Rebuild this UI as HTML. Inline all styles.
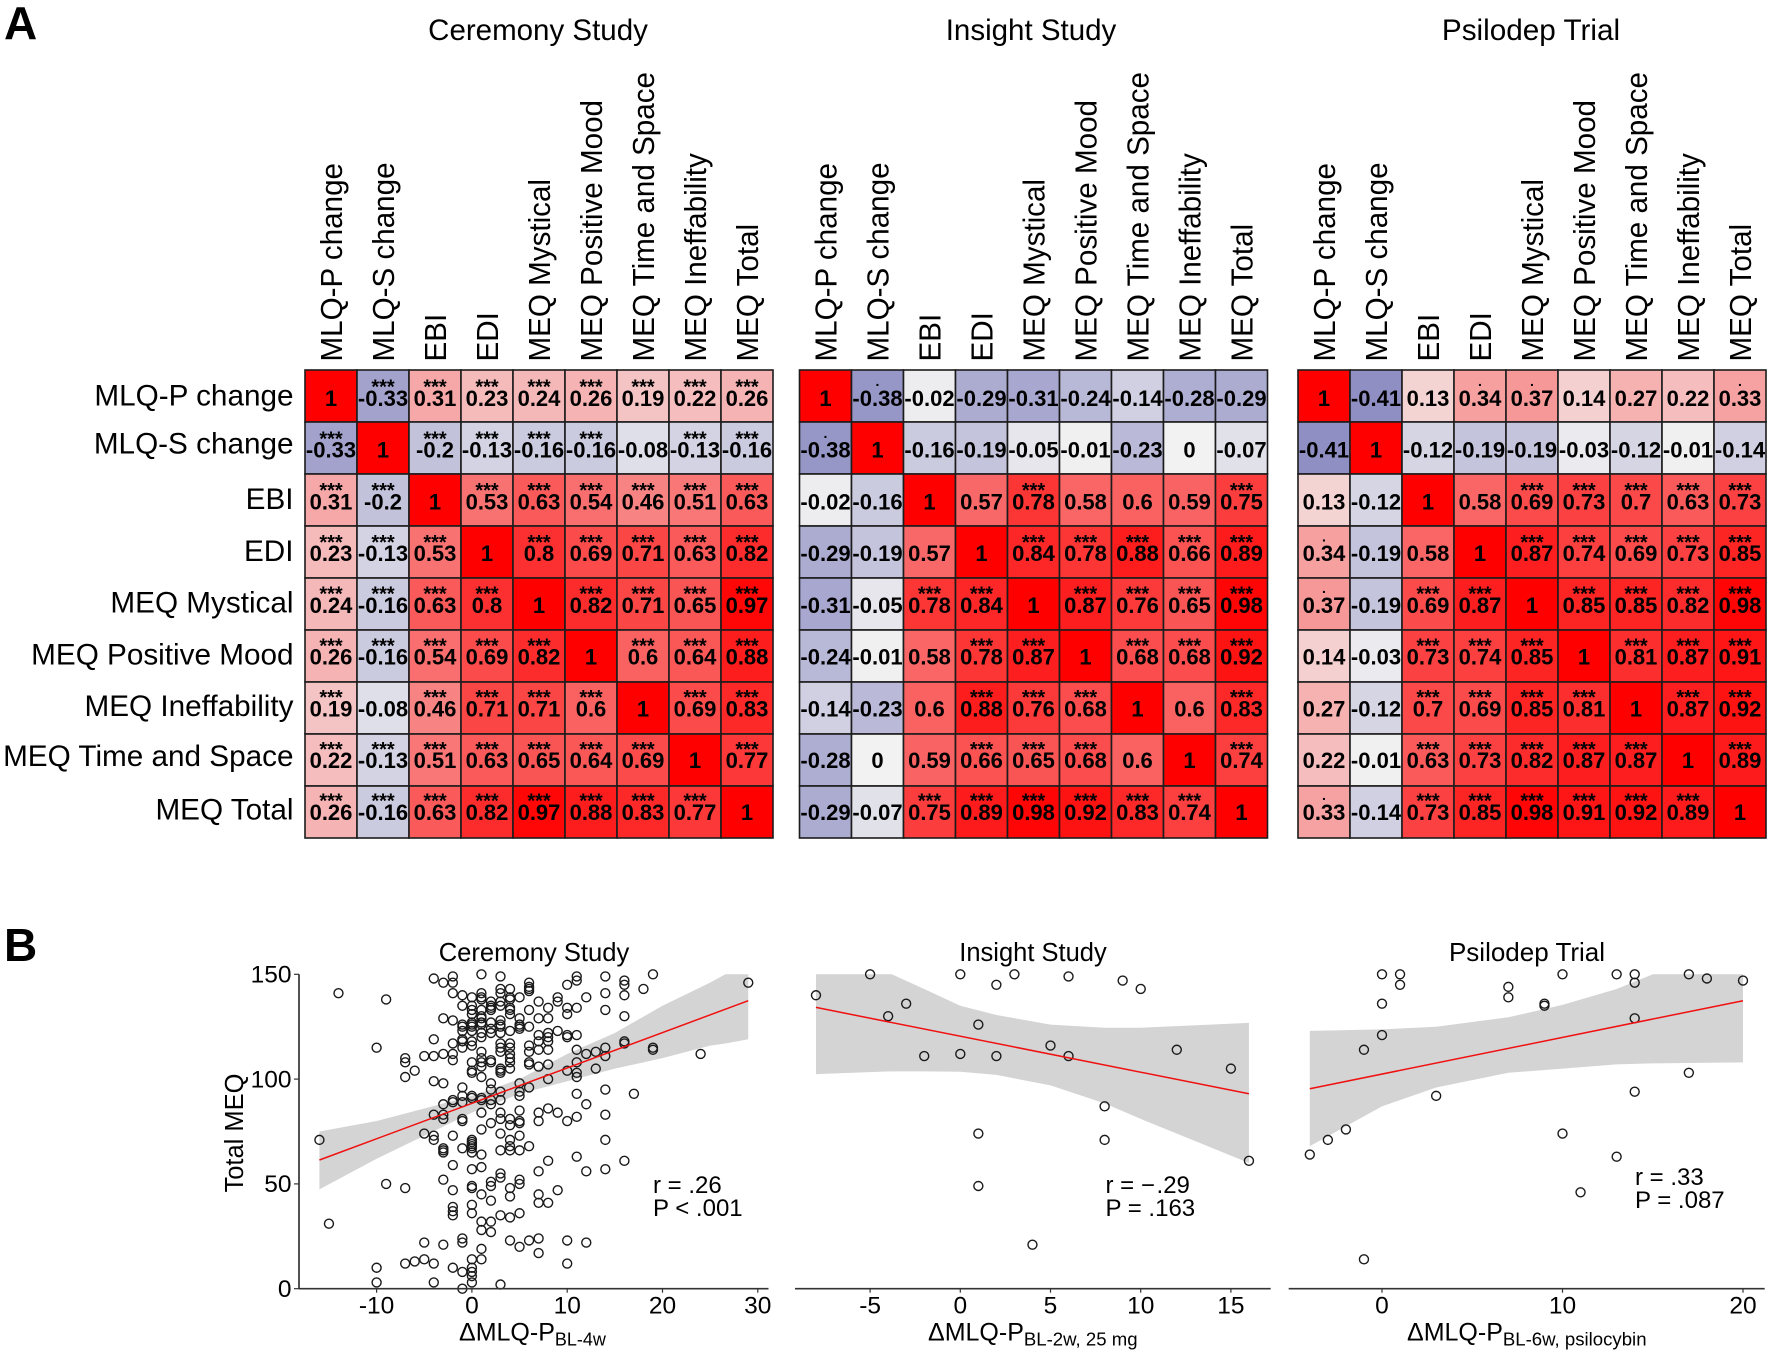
<!DOCTYPE html>
<html lang="en">
<head>
<meta charset="utf-8">
<title>Correlation matrices and scatter plots of MLQ-P change and MEQ</title>
<style>
html,body{margin:0;padding:0;background:#fff;width:1772px;height:1354px;overflow:hidden}
svg{display:block}
text{font-family:"Liberation Sans",Arial,sans-serif;fill:#000}
</style>
</head>
<body>
<svg id="figure" xmlns="http://www.w3.org/2000/svg" width="1772" height="1354" viewBox="0 0 1772 1354">
  <rect x="0" y="0" width="1772" height="1354" fill="#fff"/>
  <text x="4" y="39" font-size="46" font-weight="700">A</text>
  <text x="4" y="961" font-size="46" font-weight="700">B</text>
  <text x="538" y="40" font-size="29.5" text-anchor="middle">Ceremony Study</text>
  <text x="1031" y="40" font-size="29.5" text-anchor="middle">Insight Study</text>
  <text x="1531" y="40" font-size="29.7" text-anchor="middle">Psilodep Trial</text>
  <text x="534" y="961" font-size="25.6" text-anchor="middle">Ceremony Study</text>
  <text x="1033" y="961" font-size="25.5" text-anchor="middle">Insight Study</text>
  <text x="1527" y="961" font-size="26" text-anchor="middle">Psilodep Trial</text>
  <text transform="translate(243,1133) rotate(-90)" font-size="25.5" text-anchor="middle">Total MEQ</text>
  <g id="heatmaps"></g>
  <g id="scatters"></g>
  <text x="459" y="1340.5" font-size="25">ΔMLQ-P<tspan font-size="18" dy="5">BL-4w</tspan></text>
  <text x="928" y="1340.5" font-size="25">ΔMLQ-P<tspan font-size="18.6" dy="5">BL-2w, 25 mg</tspan></text>
  <text x="1407" y="1340.5" font-size="25">ΔMLQ-P<tspan font-size="18.6" dy="5">BL-6w, psilocybin</tspan></text>
  <text x="653" y="1193" font-size="24">r = .26</text>
  <text x="653" y="1216" font-size="24">P &lt; .001</text>
  <text x="1105.5" y="1193" font-size="24">r = − <tspan dx="-5">.29</tspan></text>
  <text x="1105.5" y="1216" font-size="24">P = .163</text>
  <text x="1635" y="1185" font-size="24">r = .33</text>
  <text x="1635" y="1208" font-size="24">P = .087</text>
</svg>
<script>
// ---------- Heatmap data ----------
const columnLabels = ["MLQ-P change","MLQ-S change","EBI","EDI","MEQ Mystical","MEQ Positive Mood","MEQ Time and Space","MEQ Ineffability","MEQ Total"];
const rowLabels = ["MLQ-P change","MLQ-S change","EBI","EDI","MEQ Mystical","MEQ Positive Mood","MEQ Ineffability","MEQ Time and Space","MEQ Total"];

const ceremonyCorr = [
 [1,-0.33,0.31,0.23,0.24,0.26,0.19,0.22,0.26],
 [-0.33,1,-0.2,-0.13,-0.16,-0.16,-0.08,-0.13,-0.16],
 [0.31,-0.2,1,0.53,0.63,0.54,0.46,0.51,0.63],
 [0.23,-0.13,0.53,1,0.8,0.69,0.71,0.63,0.82],
 [0.24,-0.16,0.63,0.8,1,0.82,0.71,0.65,0.97],
 [0.26,-0.16,0.54,0.69,0.82,1,0.6,0.64,0.88],
 [0.19,-0.08,0.46,0.71,0.71,0.6,1,0.69,0.83],
 [0.22,-0.13,0.51,0.63,0.65,0.64,0.69,1,0.77],
 [0.26,-0.16,0.63,0.82,0.97,0.88,0.83,0.77,1]
];
const insightCorr = [
 [1,-0.38,-0.02,-0.29,-0.31,-0.24,-0.14,-0.28,-0.29],
 [-0.38,1,-0.16,-0.19,-0.05,-0.01,-0.23,0,-0.07],
 [-0.02,-0.16,1,0.57,0.78,0.58,0.6,0.59,0.75],
 [-0.29,-0.19,0.57,1,0.84,0.78,0.88,0.66,0.89],
 [-0.31,-0.05,0.78,0.84,1,0.87,0.76,0.65,0.98],
 [-0.24,-0.01,0.58,0.78,0.87,1,0.68,0.68,0.92],
 [-0.14,-0.23,0.6,0.88,0.76,0.68,1,0.6,0.83],
 [-0.28,0,0.59,0.66,0.65,0.68,0.6,1,0.74],
 [-0.29,-0.07,0.75,0.89,0.98,0.92,0.83,0.74,1]
];
const psilodepCorr = [
 [1,-0.41,0.13,0.34,0.37,0.14,0.27,0.22,0.33],
 [-0.41,1,-0.12,-0.19,-0.19,-0.03,-0.12,-0.01,-0.14],
 [0.13,-0.12,1,0.58,0.69,0.73,0.7,0.63,0.73],
 [0.34,-0.19,0.58,1,0.87,0.74,0.69,0.73,0.85],
 [0.37,-0.19,0.69,0.87,1,0.85,0.85,0.82,0.98],
 [0.14,-0.03,0.73,0.74,0.85,1,0.81,0.87,0.91],
 [0.27,-0.12,0.7,0.69,0.85,0.81,1,0.87,0.92],
 [0.22,-0.01,0.63,0.73,0.82,0.87,0.87,1,0.89],
 [0.33,-0.14,0.73,0.85,0.98,0.91,0.92,0.89,1]
];
// significance: 3 = ***, . = dot, - = none
const ceremonySig = ["-33333333","3-3333-33","33-333333","333-33333","3333-3333","33333-333","3-3333-33","3333333-3","33333333-"];
const insightSig = ["-.-------",".--------","----3---3","----33333","--33-3333","---33-333","---333--3","---333--3","--333333-"];
const psilodepSig = ["---..---.","---------","----33333",".---33333",".-33-3333","--333-333","--3333-33","--33333-3",".-333333-"];

// ---------- Scatter data ----------
const ceremonyColumnsX = [-16,-15,-14,-10,-9,-7,-6,-5,-4,-3,-2,-1,0,1,2,3,4,5,6,7,8,9,10,11,12,13,14,16,17,18,19,24,29];
const ceremonyColumnsMEQ = [
 [71],[31],[141],[115,10,3],[138,50],[110,108,101,48,12],[104,13],[111,74,22,14],
 [148,119,111,99,83,73,71,12,3],
 [146,129,112,98,88,83,81,67,66,65,52,21],
 [149,146,141,128,117,112,109,90,89,73,59,47,39,37,35,10],
 [140,135,126,125,123,119,118,115,96,92,89,81,80,67,24,22,8,0],
 [139,135,133,131,127,126,125,123,118,116,108,104,103,92,91,71,70,69,68,67,65,57,49,48,40,36,14,10,8,6,3],
 [150,141,139,138,133,130,129,127,126,122,120,113,110,108,106,101,91,90,84,76,64,58,45,32,28,19,14],
 [137,135,134,133,127,124,122,109,108,98,95,90,88,79,51,49,42,32,27],
 [149,143,141,137,135,128,126,125,122,117,115,113,105,104,103,94,90,84,81,74,66,55,53,35,2],
 [143,139,138,134,133,131,123,117,115,112,110,108,105,81,78,71,68,66,48,44,34,23],
 [139,129,126,125,124,98,94,92,85,80,79,73,66,52,50,36,20],
 [146,144,143,142,133,125,116,113,108,107,96,68,23],
 [137,129,121,118,114,106,84,80,56,45,41,24,17],
 [134,129,122,120,118,114,107,100,86,61,41],
 [139,137,123,84,47],
 [145,134,131,121,120,104,80,23,12],
 [149,147,134,121,114,108,103,101,93,82,63],
 [139,112,88,56,22],
 [113,105],
 [149,141,133,115,111,95,83,71,57],
 [147,145,140,130,118,117,61],
 [93],[143],[150,115,114],[112],[146]
];
const ceremonyLineX = [-16,29];
const ceremonyLineY = [61.4,137.4];
const ceremonyCiX = [-16,-10,-5,0,5,10,15,20,25,26.6,29];
const ceremonyCiUpper = [75,80,86,92,100,112,122,135,146,150,150];
const ceremonyCiLower = [47.4,62,73,84,93,99,105,110,116,117,119];

const insightX = [-8,-5,-4,-3,-2,0,0,1,1,1,2,2,3,4,5,6,6,8,8,9,10,12,15,16];
const insightMEQ = [140,150,130,136,111,150,112,126,74,49,145,111,150,21,116,149,111,87,71,147,143,114,105,61];
const insightLineX = [-8,16];
const insightLineY = [134.2,93];
const insightCiX = [-8,-3.8,-2,0,2,5,8,10,16];
const insightCiUpper = [150,150,143,135,130.6,126,124.5,124.5,126.8];
const insightCiLower = [102.4,103.7,103.7,103.5,102,97,88.4,81,60];

const psilodepX = [-4,-3,-2,-1,-1,0,0,0,1,1,3,7,7,9,9,10,10,11,13,13,14,14,14,14,17,17,18,20];
const psilodepMEQ = [64,71,76,114,14,150,136,121,150,145,92,144,139,136,135,150,74,46,150,63,150,146,129,94,150,103,148,147];
const psilodepLineX = [-4,20];
const psilodepLineY = [95.4,137.4];
const psilodepCiX = [-4,0,3,7,10,13,15,20];
const psilodepCiUpper = [123,123.7,125,129.5,135.4,143,150,150];
const psilodepCiLower = [68,87,96,103,105,107,107.5,108];

const yTicks = [0,50,100,150];
const ceremonyXTicks = [-10,0,10,20,30];
const insightXTicks = [-5,0,5,10,15];
const psilodepXTicks = [0,10,20];

// ---------- Helpers ----------
const NS = "http://www.w3.org/2000/svg";
function make(tag, attrs, parent, content){
  const el = document.createElementNS(NS, tag);
  for (const k in attrs) el.setAttribute(k, attrs[k]);
  if (content !== undefined) el.textContent = content;
  parent.appendChild(el);
  return el;
}
function cellColor(v){
  if (v >= 0){
    const c = Math.round(242 * (1 - v));
    const r = Math.round(242 + 13 * v);
    return "rgb(" + r + "," + c + "," + c + ")";
  }
  const a = -v;
  const rg = Math.round(242 - 242 * a);
  const b = Math.round(242 - 114 * a);
  return "rgb(" + rg + "," + rg + "," + b + ")";
}

// ---------- Heatmaps ----------
const heatTop = 370, cellSize = 52, rowLabelRight = 293.5, textStep = 51.75;
const rowLabelBaseline = r => 405.7 + textStep * r - (r === 1 ? 4 : 0) - (r === 7 ? 2 : 0);
function drawHeatmap(root, left, corr, sig, withRowLabels){
  const colCenter = c => left + cellSize * (c + 0.5);
  const rowTop = r => heatTop + cellSize * r;
  const group = make("g", {}, root);
  
  
  corr.forEach((row, r) => {
    row.forEach((v, c) => {
      const rect = make("rect", {x: left + cellSize * c, y: rowTop(r), width: cellSize, height: cellSize, fill: cellColor(v), stroke: "#1c1c1c", "stroke-width": 1.6}, group);
      
      
    });
  });
  corr.forEach((row, r) => {
    row.forEach((v, c) => {
      const label = make("text", {x: colCenter(c), y: 405.8 + textStep * r, "font-size": 22, "font-weight": 700, "text-anchor": "middle"}, group, String(v));
      
      
      const mark = sig[r][c];
      if (mark === "3"){
        const stars = make("text", {x: colCenter(c), y: 393.5 + textStep * r, "font-size": 20, "font-weight": 700, "text-anchor": "middle"}, group, "***");
        
        
      } else if (mark === "."){
        const dot = make("text", {x: colCenter(c), y: 386 + textStep * r, "font-size": 14, "font-weight": 700, "text-anchor": "middle"}, group, ".");
        
        
      }
    });
  });
  columnLabels.forEach((name, c) => {
    const t = make("text", {transform: "translate(" + (colCenter(c) + 11) + ",361.5) rotate(-90) scale(0.955,1)", "font-size": 31}, group, name);
    
    
  });
  if (withRowLabels){
    rowLabels.forEach((name, r) => {
      const t = make("text", {x: rowLabelRight, y: rowLabelBaseline(r), "font-size": 29.7, "text-anchor": "end"}, group, name);
      
      
    });
  }
}
const heatRoot = document.getElementById("heatmaps");
drawHeatmap(heatRoot, 305, ceremonyCorr, ceremonySig, true);
drawHeatmap(heatRoot, 799.5, insightCorr, insightSig, false);
drawHeatmap(heatRoot, 1298, psilodepCorr, psilodepSig, false);

// ---------- Scatter plots ----------
const yScale = v => 1288.7 - v * (314.4 / 150);
function drawScatter(root, opt){
  const xScale = v => opt.zero + v * opt.unit;
  const group = make("g", {}, root);
  
  

  const upper = opt.ciX.map((x, i) => xScale(x) + "," + yScale(opt.ciUpper[i]));
  const lower = opt.ciX.map((x, i) => xScale(x) + "," + yScale(opt.ciLower[i])).reverse();
  const band = make("polygon", {points: upper.concat(lower).join(" "), fill: "#d4d4d4", stroke: "none"}, group);
  
  

  opt.px.forEach((x, i) => {
    const pt = make("circle", {cx: xScale(x), cy: yScale(opt.py[i]), r: 4.5, fill: "none", stroke: "#1a1a1a", "stroke-width": 1.4}, group);
    
    
  });

  const fit = make("line", {x1: xScale(opt.lineX[0]), y1: yScale(opt.lineY[0]), x2: xScale(opt.lineX[1]), y2: yScale(opt.lineY[1]), stroke: "#f01010", "stroke-width": 1.5}, group);
  
  

  const axis = make("line", {x1: opt.axisLeft, y1: yScale(0), x2: opt.axisRight, y2: yScale(0), stroke: "#333", "stroke-width": 1.7}, group);
  
  

  opt.xTicks.forEach(v => {
    const tick = make("line", {x1: xScale(v), y1: yScale(0), x2: xScale(v), y2: yScale(0) + 4, stroke: "#333", "stroke-width": 1.2}, group);
    
    
    const lab = make("text", {x: xScale(v), y: 1313.5, "font-size": 24.5, "text-anchor": "middle"}, group, String(v));
    
    
  });

  if (opt.yAxis){
    const yAxis = make("line", {x1: opt.axisLeft, y1: yScale(150), x2: opt.axisLeft, y2: yScale(0), stroke: "#333", "stroke-width": 1.7}, group);
    
    
    yTicks.forEach(v => {
      const tick = make("line", {x1: opt.axisLeft - 5, y1: yScale(v), x2: opt.axisLeft, y2: yScale(v), stroke: "#333", "stroke-width": 1.2}, group);
      
      
      const lab = make("text", {x: opt.axisLeft - 7.5, y: yScale(v) + 8.3, "font-size": 24.5, "text-anchor": "end"}, group, String(v));
      
      
    });
  }
}
const ceremonyPointsX = [];
const ceremonyPointsY = [];
ceremonyColumnsX.forEach((x, i) => ceremonyColumnsMEQ[i].forEach(y => { ceremonyPointsX.push(x); ceremonyPointsY.push(y); }));

const scatterRoot = document.getElementById("scatters");
drawScatter(scatterRoot, {zero: 471.9, unit: 9.53, axisLeft: 299, axisRight: 768.5, yAxis: true, xTicks: ceremonyXTicks,
  px: ceremonyPointsX, py: ceremonyPointsY, lineX: ceremonyLineX, lineY: ceremonyLineY, ciX: ceremonyCiX, ciUpper: ceremonyCiUpper, ciLower: ceremonyCiLower});
drawScatter(scatterRoot, {zero: 960.3, unit: 18.04, axisLeft: 795, axisRight: 1270.7, yAxis: false, xTicks: insightXTicks,
  px: insightX, py: insightMEQ, lineX: insightLineX, lineY: insightLineY, ciX: insightCiX, ciUpper: insightCiUpper, ciLower: insightCiLower});
drawScatter(scatterRoot, {zero: 1382, unit: 18.05, axisLeft: 1288.7, axisRight: 1764.7, yAxis: false, xTicks: psilodepXTicks,
  px: psilodepX, py: psilodepMEQ, lineX: psilodepLineX, lineY: psilodepLineY, ciX: psilodepCiX, ciUpper: psilodepCiUpper, ciLower: psilodepCiLower});
</script>
</body>
</html>
